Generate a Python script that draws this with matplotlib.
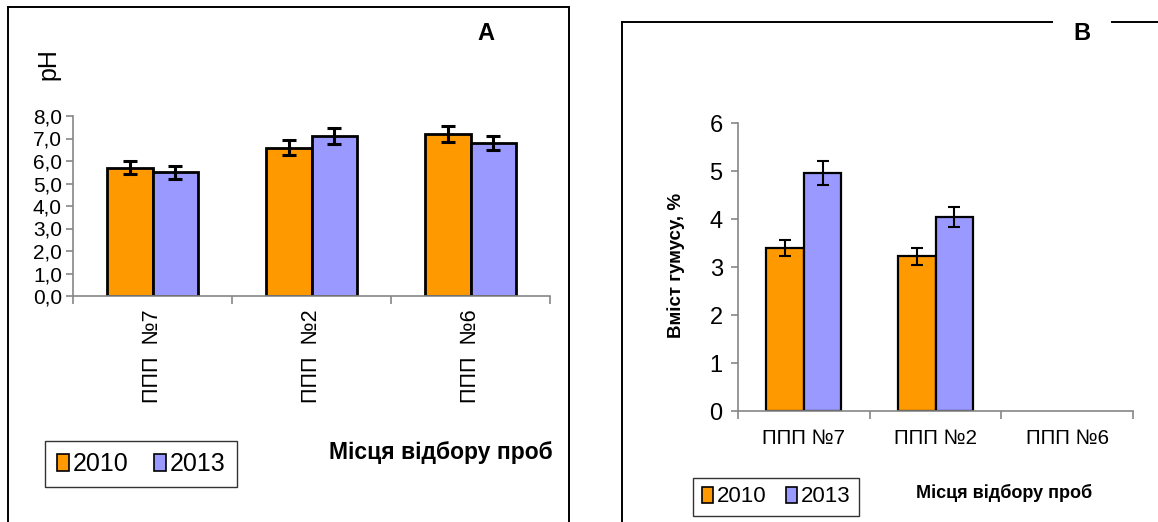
import matplotlib
matplotlib.use("Agg")
import matplotlib.pyplot as plt
from matplotlib.lines import Line2D
from matplotlib.patches import Patch
import numpy as np

plt.rcParams['font.family'] = ['Liberation Sans', 'DejaVu Sans']

# panel A - pH
sites_a = ['ППП  №7', 'ППП  №2', 'ППП  №6']
ph_2010 = [5.7, 6.6, 7.2]
ph_2013 = [5.5, 7.1, 6.8]
ph_err_2010 = [0.28, 0.32, 0.35]
ph_err_2013 = [0.28, 0.35, 0.33]
ph_ticks = ['0,0', '1,0', '2,0', '3,0', '4,0', '5,0', '6,0', '7,0', '8,0']

# panel B - humus content
sites_b = ['ППП №7', 'ППП №2', 'ППП №6']
hum_2010 = [3.4, 3.22, np.nan]
hum_2013 = [4.95, 4.05, np.nan]
hum_err_2010 = [0.17, 0.17, 0]
hum_err_2013 = [0.25, 0.21, 0]

years = ['2010', '2013']
c2010 = '#FF9900'
c2013 = '#9999FF'
axis_grey = '#868686'

W, H = 1158, 522
fig = plt.figure(figsize=(W / 100, H / 100), dpi=100)


def fx(px):
    return px / W


def fy(py):
    return 1 - py / H


def px_axes(x0, y0, x1, y1):
    # pixel box (top-left origin) -> figure axes
    return fig.add_axes([fx(x0), fy(y1), fx(x1) - fx(x0), fy(y0) - fy(y1)])


def style_axes(ax, ncat):
    for s in ['top', 'right']:
        ax.spines[s].set_visible(False)
    for s in ['left', 'bottom']:
        ax.spines[s].set_color(axis_grey)
        ax.spines[s].set_linewidth(1.2)
    ax.set_xlim(-0.5, ncat - 0.5)
    ax.set_xticks(np.arange(ncat + 1) - 0.5, minor=False)
    ax.set_xticklabels([])
    ax.tick_params(axis='x', which='major', length=6, color=axis_grey, width=1.2)
    ax.tick_params(axis='y', length=5, color=axis_grey, width=1.2, pad=3)
    ax.patch.set_alpha(0)


bw = 0.285
x = np.arange(3)

# ---------------- panel A
axA = px_axes(73, 116, 550, 296)
axA.bar(x - bw / 2, ph_2010, bw, color=c2010, edgecolor='black', linewidth=2, zorder=2)
axA.bar(x + bw / 2, ph_2013, bw, color=c2013, edgecolor='black', linewidth=2, zorder=2)
axA.errorbar(x - bw / 2, ph_2010, yerr=ph_err_2010, fmt='none', ecolor='black',
             elinewidth=2.2, capsize=5, capthick=2.2, zorder=3)
axA.errorbar(x + bw / 2, ph_2013, yerr=ph_err_2013, fmt='none', ecolor='black',
             elinewidth=2.2, capsize=5, capthick=2.2, zorder=3)
axA.set_ylim(0, 8)
axA.set_yticks(np.arange(9))
axA.set_yticklabels(ph_ticks, fontsize=15)
style_axes(axA, 3)
for i, s in enumerate(sites_a):
    axA.text(i, -0.6, s, rotation=90, ha='center', va='top', fontsize=15.5,
             transform=axA.transData)
fig.text(fx(48), fy(64), 'pH', rotation=90, ha='center', va='center', fontsize=18)
fig.text(fx(486), fy(33), 'A', ha='center', va='center', fontsize=17, fontweight='bold')
fig.text(fx(441), fy(453), 'Місця відбору проб', ha='center', va='center',
         fontsize=16.5, fontweight='bold')

handles = [Patch(facecolor=c2010, edgecolor='black', linewidth=1.2),
           Patch(facecolor=c2013, edgecolor='black', linewidth=1.2)]
legA = fig.legend(handles, years, loc='center', bbox_to_anchor=(fx(141), fy(464)),
                  ncol=2, fontsize=18, frameon=True, fancybox=False,
                  handlelength=0.5, handleheight=0.7, handletextpad=0.15,
                  columnspacing=1.0, borderpad=0.45)
legA.get_frame().set_edgecolor('black')
legA.get_frame().set_linewidth(1.0)

# ---------------- panel B
axB = px_axes(738, 123, 1133, 411)
axB.bar(x - bw / 2, hum_2010, bw, color=c2010, edgecolor='black', linewidth=1.6, zorder=2)
axB.bar(x + bw / 2, hum_2013, bw, color=c2013, edgecolor='black', linewidth=1.6, zorder=2)
axB.errorbar(x - bw / 2, hum_2010, yerr=hum_err_2010, fmt='none', ecolor='black',
             elinewidth=1.5, capsize=4.5, capthick=1.5, zorder=3)
axB.errorbar(x + bw / 2, hum_2013, yerr=hum_err_2013, fmt='none', ecolor='black',
             elinewidth=1.5, capsize=4.5, capthick=1.5, zorder=3)
axB.set_ylim(0, 6)
axB.set_yticks(np.arange(7))
axB.set_yticklabels([str(v) for v in range(7)], fontsize=17)
style_axes(axB, 3)
axB.tick_params(axis='y', pad=6)
for i, s in enumerate(sites_b):
    axB.text(i, -0.38, s, ha='center', va='top', fontsize=14.8, transform=axB.transData)
fig.text(fx(676), fy(265), 'Вміст гумусу, %', rotation=90, ha='center', va='center',
         fontsize=13.5, fontweight='bold')
fig.text(fx(1082), fy(34), 'B', ha='center', va='center', fontsize=17, fontweight='bold')
fig.text(fx(1004), fy(493), 'Місця відбору проб', ha='center', va='center',
         fontsize=13, fontweight='bold')

legB = fig.legend(handles, years, loc='center', bbox_to_anchor=(fx(776), fy(497)),
                  ncol=2, fontsize=16, frameon=True, fancybox=False,
                  handlelength=0.5, handleheight=0.7, handletextpad=0.15,
                  columnspacing=0.9, borderpad=0.4)
legB.get_frame().set_edgecolor('black')
legB.get_frame().set_linewidth(1.0)

# frame lines of the two panels
frame = dict(color='black', linewidth=1.4, transform=fig.transFigure)
fig.add_artist(Line2D([fx(8), fx(8)], [fy(7), 0], **frame))
fig.add_artist(Line2D([fx(8), fx(569)], [fy(7), fy(7)], **frame))
fig.add_artist(Line2D([fx(569), fx(569)], [fy(7), 0], **frame))
fig.add_artist(Line2D([fx(622), fx(622)], [fy(22), 0], **frame))
fig.add_artist(Line2D([fx(622), fx(1052)], [fy(22), fy(22)], **frame))
fig.add_artist(Line2D([fx(1112), 1], [fy(22), fy(22)], **frame))

fig.savefig('out.png', dpi=100)
